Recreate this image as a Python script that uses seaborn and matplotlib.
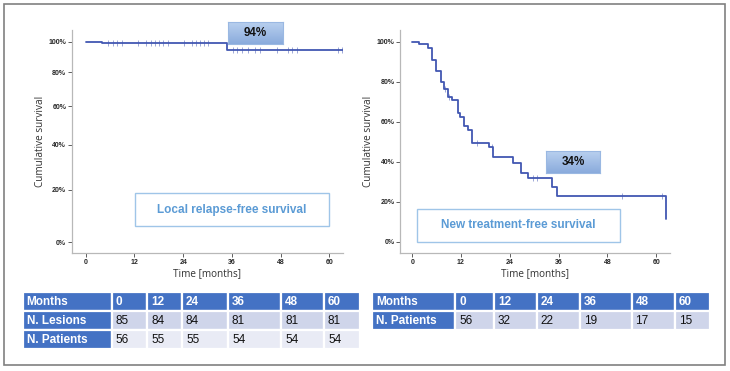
import numpy as np
import pandas as pd
import matplotlib
matplotlib.use('Agg')
import matplotlib.pyplot as plt
from matplotlib.patches import Rectangle
from matplotlib.ticker import FuncFormatter
import seaborn as sns

# ---- data ----
months_ticks = [0, 12, 24, 36, 48, 60]

# local relapse-free survival (left)
lrfs_time = [0, 3.9, 34.7, 63.5]
lrfs_surv = [100, 98.8, 94.0, 94.0]
lrfs_cens = [5.6, 6.8, 7.8, 8.9, 13.0, 14.9, 16.0, 17.1, 18.1, 19.1, 20.2,
             24.1, 26.1, 27.3, 28.2, 29.2, 30.2,
             36.2, 37.2, 38.4, 40.1, 41.7, 43.0, 47.1, 49.9, 50.9, 52.0, 62.2, 63.1]

# new treatment-free survival (right)
ntfs_time = [0, 1.7, 3.9, 4.9, 5.9, 7.0, 7.8, 8.8, 9.7, 11.2, 11.8, 12.8, 13.8,
             14.8, 18.9, 19.9, 24.7, 26.8, 28.6, 34.5, 35.5, 62.4]
ntfs_surv = [100, 98.7, 96.7, 90.8, 85.5, 80.0, 76.3, 72.5, 70.8, 64.5, 62.2,
             58.0, 55.8, 49.5, 47.2, 42.2, 39.5, 34.2, 31.7, 27.5, 23.0, 11.3]
ntfs_cens = [8.0, 9.0, 15.9, 19.7, 29.8, 30.7, 51.6, 61.5]

# at-risk tables
table_left = [['Months', '0', '12', '24', '36', '48', '60'],
              ['N. Lesions', '85', '84', '84', '81', '81', '81'],
              ['N. Patients', '56', '55', '55', '54', '54', '54']]
table_right = [['Months', '0', '12', '24', '36', '48', '60'],
               ['N. Patients', '56', '32', '22', '19', '17', '15']]

LINE = '#4257b2'
W, H = 730, 371

sns.set_style('white')
plt.rcParams['font.family'] = ['Liberation Sans', 'DejaVu Sans']

fig = plt.figure(figsize=(W / 100, H / 100), dpi=100)


def px_axes(x0, y0, x1, y1):
    return fig.add_axes([x0 / W, 1 - y1 / H, (x1 - x0) / W, (y1 - y0) / H])


def step_at(times, surv, t):
    idx = np.searchsorted(times, t, side='right') - 1
    return np.asarray(surv)[idx]


def km_axes(ax, times, surv, cens, ypad):
    df = pd.DataFrame({'t': times, 's': surv})
    sns.lineplot(data=df, x='t', y='s', ax=ax, drawstyle='steps-post',
                 color=LINE, lw=1.3, estimator=None, sort=False)
    cdf = pd.DataFrame({'t': cens, 's': step_at(times, surv, cens)})
    sns.scatterplot(data=cdf, x='t', y='s', ax=ax, marker='|', s=14,
                    color=LINE, linewidth=0.6, alpha=0.6)
    ax.set_xticks(months_ticks)
    ax.set_yticks([0, 20, 40, 60, 80, 100])
    ax.yaxis.set_major_formatter(FuncFormatter(lambda v, p: f'{v:.0f}%'))
    for s in ['top', 'right']:
        ax.spines[s].set_visible(False)
    for s in ['left', 'bottom']:
        ax.spines[s].set_color('#b8b8b8')
        ax.spines[s].set_linewidth(0.9)
    ax.tick_params(axis='both', direction='out', length=3, width=0.6,
                   color='#444444', labelsize=5, pad=1, bottom=True, left=True)
    for lab in ax.get_xticklabels() + ax.get_yticklabels():
        lab.set_fontweight('bold')
    ax.set_xlabel('Time [months]', fontsize=7.2, family='Open Sans',
                  color='#333333', labelpad=2)
    ax.set_ylabel('Cumulative survival', fontsize=7.2, family='Open Sans',
                  color='#333333', labelpad=ypad)


# left panel, non-linear (log2(1+S)) survival axis
axl = px_axes(71.7, 30, 343, 253)
axl.set_yscale('function', functions=(lambda v: np.log2(1 + np.asarray(v) / 100.0),
                                      lambda v: (np.power(2.0, v) - 1) * 100.0))
km_axes(axl, lrfs_time, lrfs_surv, lrfs_cens, 1.5)
axl.set_xlim(-3.45, 63.4)
axl.set_ylim(-3.6, 108.2)

# right panel
axr = px_axes(400, 30, 670, 253)
km_axes(axr, ntfs_time, ntfs_surv, ntfs_cens, 2)
axr.set_xlim(-3.0, 63.4)
axr.set_ylim(-5.65, 105.85)


def grad_box(x0, y0, x1, y1, text):
    a = px_axes(x0, y0, x1, y1)
    grad = np.linspace(0, 1, 64).reshape(-1, 1)
    cmap = matplotlib.colors.LinearSegmentedColormap.from_list('g', ['#b9d0ef', '#8aabdc'])
    a.imshow(grad, aspect='auto', cmap=cmap, extent=[0, 1, 0, 1], origin='upper')
    a.set_xticks([])
    a.set_yticks([])
    for s in a.spines.values():
        s.set_color('#9ab8e2')
        s.set_linewidth(0.8)
    a.text(0.5, 0.5, text, ha='center', va='center', fontsize=8.4,
           fontweight='bold', color='#111111', transform=a.transAxes)


def label_box(x0, y0, x1, y1, text):
    fig.patches.append(Rectangle((x0 / W, 1 - y1 / H), (x1 - x0) / W, (y1 - y0) / H,
                                 transform=fig.transFigure, fc='white',
                                 ec='#9fc5e8', lw=1.0, zorder=5))
    fig.text((x0 + x1) / 2 / W, 1 - (y0 + y1) / 2 / H, text, ha='center',
             va='center', fontsize=8.5, fontweight='bold', color='#5b9bd5', zorder=6)


grad_box(228, 22, 283, 44, '94%')
grad_box(546, 151, 600, 173, '34%')
label_box(135, 193, 329, 226, 'Local relapse-free survival')
label_box(417, 209, 620, 242, 'New treatment-free survival')


def at_risk(rows, x0, y0, x1, y1, col_px):
    a = px_axes(x0, y0, x1, y1)
    a.axis('off')
    header = '#4472c4'
    fills = ['#cfd5ea', '#e9ebf5']
    colours = []
    for i, r in enumerate(rows):
        if i == 0:
            colours.append([header] * len(r))
        else:
            colours.append([header] + [fills[(i - 1) % 2]] * (len(r) - 1))
    tot = float(sum(col_px))
    tb = a.table(cellText=rows, cellColours=colours, colWidths=[c / tot for c in col_px],
                 cellLoc='left', bbox=[0, 0, 1, 1])
    tb.auto_set_font_size(False)
    for (i, j), cell in tb.get_celld().items():
        cell.set_edgecolor('white')
        cell.set_linewidth(1.6)
        cell.PAD = 4.0 / col_px[j]
        txt = cell.get_text()
        txt.set_fontsize(8.5)
        if i == 0 or j == 0:
            txt.set_color('white')
            txt.set_fontweight('bold')
        else:
            txt.set_color('#111111')


at_risk(table_left, 22.7, 292.3, 360, 349, [88.8, 35.5, 35, 46, 53, 43, 36])
at_risk(table_right, 372.3, 292.3, 710, 330, [82.7, 39, 42.5, 43.5, 51.5, 43.5, 35])

# outer frame
fig.patches.append(Rectangle((4 / W, 1 - 365 / H), 721 / W, 361 / H,
                             transform=fig.transFigure, fill=False,
                             ec='#808080', lw=1.2))

fig.savefig('out.png', dpi=100)
